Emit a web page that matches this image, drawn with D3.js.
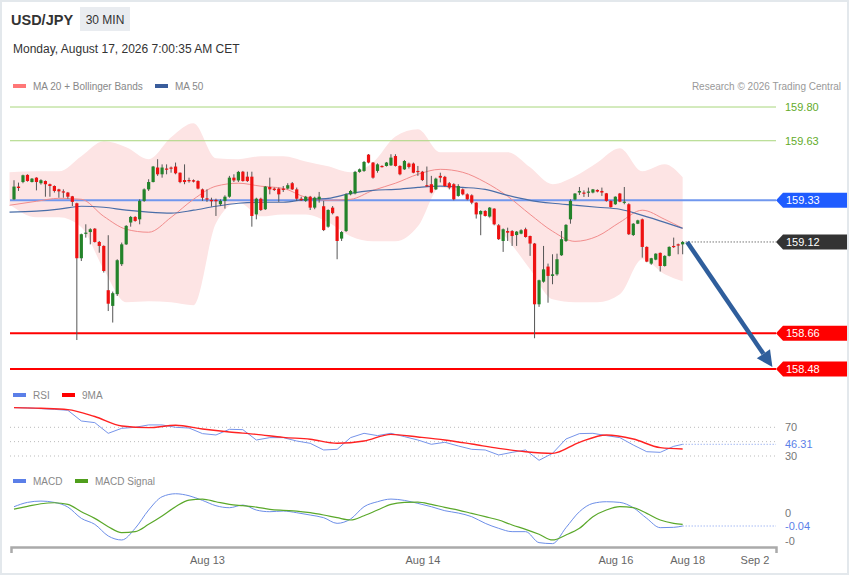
<!DOCTYPE html>
<html>
<head>
<meta charset="utf-8">
<script src="https://cdn.jsdelivr.net/npm/d3@7"></script>
<style>
  body { margin: 0; background: #fff; font-family: "Liberation Sans", Arial, sans-serif; }
</style>
</head>
<body>
<div id="chart"></div>
<script>
// candles, 30 min USD/JPY
const opens = [159.335,159.399,159.422,159.458,159.422,159.444,159.416,159.427,159.411,159.402,
  159.385,159.375,159.369,159.350,159.315,159.038,159.164,159.170,159.187,159.120,
  159.100,158.877,158.798,158.857,159.008,159.108,159.218,159.246,159.234,159.327,
  159.385,159.422,159.495,159.461,159.490,159.495,159.500,159.469,159.432,159.432,
  159.431,159.427,159.385,159.340,159.332,159.332,159.310,159.327,159.348,159.444,
  159.430,159.474,159.449,159.449,159.259,159.338,159.285,159.397,159.389,159.389,
  159.389,159.389,159.416,159.385,159.338,159.327,159.348,159.293,159.335,159.300,
  159.197,159.293,159.248,159.137,159.175,159.360,159.365,159.473,159.478,159.560,
  159.520,159.478,159.503,159.503,159.506,159.553,159.503,159.486,159.515,159.515,
  159.478,159.474,159.406,159.411,159.385,159.453,159.448,159.416,159.411,159.352,
  159.385,159.360,159.355,159.318,159.259,159.276,159.248,159.288,159.204,159.125,
  159.175,159.175,159.155,159.162,159.184,159.150,159.112,158.806,158.920,158.996,
  158.949,158.957,159.053,159.125,159.234,159.334,159.369,159.369,159.369,159.369,
  159.382,159.377,159.365,159.327,159.310,159.364,159.318,159.310,159.155,159.212,
  159.234,159.095,159.011,159.031,159.065,158.999,159.050,159.100,159.108,159.108];
const highs = [159.431,159.419,159.459,159.461,159.442,159.446,159.436,159.430,159.414,159.405,
  159.388,159.385,159.372,159.352,159.318,159.162,159.209,159.189,159.190,159.125,
  159.103,159.154,158.870,159.033,159.117,159.205,159.251,159.250,159.335,159.390,
  159.436,159.503,159.537,159.511,159.511,159.500,159.520,159.470,159.511,159.444,
  159.435,159.431,159.389,159.385,159.343,159.338,159.335,159.355,159.453,159.461,
  159.478,159.478,159.474,159.474,159.343,159.343,159.402,159.444,159.394,159.394,
  159.402,159.416,159.422,159.394,159.348,159.352,159.352,159.348,159.372,159.327,
  159.285,159.301,159.251,159.175,159.365,159.382,159.478,159.490,159.528,159.563,
  159.523,159.516,159.506,159.523,159.562,159.562,159.506,159.533,159.520,159.520,
  159.503,159.478,159.500,159.453,159.444,159.469,159.453,159.422,159.416,159.411,
  159.390,159.365,159.360,159.320,159.280,159.280,159.296,159.290,159.210,159.188,
  159.192,159.180,159.175,159.184,159.192,159.152,159.115,158.930,159.100,159.011,
  159.058,159.061,159.175,159.210,159.335,159.366,159.397,159.380,159.394,159.387,
  159.385,159.394,159.367,159.330,159.350,159.367,159.397,159.315,159.215,159.232,
  159.238,159.098,159.040,159.063,159.067,159.053,159.098,159.142,159.112,159.125];
const lows = [159.332,159.377,159.416,159.424,159.420,159.380,159.409,159.348,159.348,159.369,
  159.343,159.343,159.338,159.301,158.626,159.024,159.142,159.108,159.117,159.066,
  158.966,158.772,158.714,158.848,158.999,159.105,159.197,159.222,159.209,159.322,
  159.377,159.420,159.453,159.444,159.461,159.469,159.461,159.416,159.411,159.419,
  159.420,159.385,159.327,159.322,159.298,159.251,159.301,159.288,159.343,159.422,
  159.422,159.424,159.422,159.197,159.234,159.276,159.281,159.360,159.377,159.322,
  159.372,159.385,159.382,159.327,159.327,159.322,159.281,159.285,159.318,159.175,
  159.192,159.259,159.033,159.125,159.170,159.355,159.360,159.469,159.473,159.516,
  159.439,159.469,159.495,159.500,159.503,159.500,159.456,159.483,159.490,159.466,
  159.453,159.427,159.399,159.365,159.382,159.420,159.399,159.385,159.330,159.348,
  159.355,159.330,159.310,159.238,159.154,159.248,159.243,159.204,159.130,159.070,
  159.125,159.100,159.100,159.159,159.142,159.050,158.635,158.793,158.915,158.814,
  158.907,158.950,159.050,159.120,159.212,159.330,159.357,159.347,159.347,159.365,
  159.370,159.352,159.323,159.293,159.307,159.320,159.310,159.155,159.150,159.210,
  159.041,159.018,159.005,159.028,158.971,158.996,159.047,159.090,159.058,159.058];
const closes = [159.399,159.392,159.456,159.427,159.439,159.422,159.431,159.411,159.402,159.377,
  159.375,159.369,159.348,159.322,159.038,159.159,159.167,159.184,159.120,159.100,
  158.974,158.809,158.862,159.028,159.108,159.201,159.246,159.226,159.327,159.385,
  159.422,159.500,159.461,159.495,159.486,159.490,159.466,159.422,159.422,159.426,
  159.424,159.389,159.343,159.335,159.325,159.325,159.327,159.348,159.444,159.430,
  159.473,159.427,159.427,159.251,159.338,159.281,159.399,159.385,159.382,159.360,
  159.382,159.406,159.385,159.338,159.330,159.348,159.293,159.343,159.348,159.180,
  159.281,159.265,159.125,159.170,159.360,159.377,159.473,159.486,159.523,159.520,
  159.444,159.511,159.500,159.520,159.545,159.503,159.461,159.528,159.498,159.469,
  159.473,159.432,159.402,159.369,159.439,159.444,159.402,159.394,159.335,159.402,
  159.360,159.335,159.318,159.259,159.276,159.251,159.293,159.209,159.134,159.184,
  159.167,159.150,159.172,159.179,159.145,159.112,158.806,158.927,158.982,158.949,
  158.957,159.033,159.134,159.206,159.327,159.364,159.377,159.365,159.374,159.385,
  159.374,159.369,159.327,159.296,159.348,159.323,159.323,159.159,159.212,159.229,
  159.095,159.021,159.038,159.061,158.999,159.050,159.095,159.095,159.103,159.120];

// moving averages and Bollinger bands, read at these candle positions
const bandIdx = [-1,5,10,15,20,25,30,35,40,45,50,55,60,65,70,75,80,85,90,95,100,105,110,115,120,125,130,135,140,145,149];
const bbUpper = [159.471,159.476,159.476,159.552,159.627,159.597,159.537,159.647,159.718,159.542,159.537,159.552,159.552,159.526,159.501,159.471,159.521,159.652,159.688,159.572,159.572,159.572,159.572,159.496,159.411,159.451,159.521,159.592,159.476,159.511,159.446];
const bbLower = [159.310,159.244,159.244,159.194,158.982,158.816,158.821,158.816,158.801,159.214,159.320,159.249,159.259,159.259,159.219,159.149,159.123,159.123,159.199,159.395,159.360,159.259,159.134,158.982,158.831,158.816,158.816,158.856,159.033,158.957,158.922];
const ma20 = [159.305,159.325,159.340,159.335,159.249,159.184,159.169,159.244,159.335,159.401,159.416,159.401,159.390,159.345,159.330,159.335,159.380,159.416,159.461,159.486,159.471,159.421,159.350,159.259,159.174,159.123,159.149,159.219,159.280,159.234,159.189];
const ma50 = [159.270,159.275,159.285,159.300,159.295,159.280,159.270,159.265,159.280,159.300,159.315,159.320,159.320,159.335,159.340,159.365,159.380,159.385,159.395,159.401,159.395,159.385,159.355,159.330,159.315,159.305,159.295,159.285,159.254,159.219,159.189];

// RSI and MACD, read every third candle
const oscIdx = [0,3,6,9,12,15,18,21,24,27,30,33,36,39,42,45,48,51,54,57,60,63,66,69,72,75,78,81,84,87,90,93,96,99,102,105,108,111,114,117,120,123,126,129,132,135,138,141,144,147,149];
const rsi = [97.4,97,96,95,93.7,78.8,76.5,61.6,68.6,70,73.3,73.3,70,69,61.2,59.3,67.2,66.7,52.3,55.6,55.6,50.9,47.7,38.4,39.3,55.6,61.6,58.4,61.6,57,52.3,46.3,49.1,44,39.3,38.4,31.4,35.1,38.4,24,33.7,53.7,61.2,61.6,58.4,55.6,45.3,36,35.1,43.5,46.31];
const rsiMaIdx = [0,6,12,18,24,30,36,42,48,54,60,66,72,78,84,90,96,102,108,114,120,126,132,138,144,149];
const rsiMa = [97.4,96.5,94.7,85,71.9,69.5,72.8,67.7,63.5,60.2,56,53.3,47.7,50.9,60.2,56.5,52.3,46.7,40.7,36,33.7,49.1,59.3,53.7,41.6,39.8];
const macd = [0.018,0.031,0.035,0.031,0.017,-0.017,-0.035,-0.07,-0.082,-0.047,0.008,0.048,0.057,0.051,0.037,0.021,0.015,0.023,0.008,0.003,0.005,0,-0.007,-0.015,-0.032,-0.019,0.018,0.033,0.041,0.037,0.028,0.018,0.006,-0.001,-0.012,-0.032,-0.047,-0.057,-0.057,-0.09,-0.093,-0.045,0.003,0.028,0.033,0.031,0.015,-0.017,-0.045,-0.044,-0.04];
const macdSignal = [0.011,0.019,0.027,0.03,0.025,0.003,-0.017,-0.042,-0.06,-0.057,-0.035,-0.01,0.018,0.038,0.041,0.033,0.025,0.021,0.017,0.01,0.007,0.005,0,-0.007,-0.015,-0.022,-0.009,0.008,0.025,0.031,0.032,0.025,0.016,0.008,-0.002,-0.012,-0.022,-0.037,-0.05,-0.065,-0.082,-0.067,-0.047,-0.012,0.008,0.018,0.015,-0.002,-0.022,-0.032,-0.035];

// levels and labels
const resistances = [159.80, 159.63];
const pivot = 159.33;
const lastPrice = 159.12;
const supports = [158.66, 158.48];
const arrowFrom = [150, 159.12];
const arrowTo = [169, 158.49];
const rsiTicks = [70, 30];
const rsiGrid = [70, 50, 30];
const rsiLast = 46.31;
const macdTicks = [0, -0.084];
const macdTickLabels = ["0", "-0"];
const macdLast = -0.04;
const tickIdx = [43, 91, 134, 150, 165];
const tickLabels = ["Aug 13", "Aug 14", "Aug 16", "Aug 18", "Sep 2"];

const W = 850, H = 576;
const font = '"Liberation Sans", Arial, sans-serif';

const svg = d3.select("#chart").append("svg")
  .attr("width", W).attr("height", H)
  .style("font-family", font);

svg.append("rect")
  .attr("x", 1).attr("y", 1).attr("width", W - 3).attr("height", H - 3)
  .attr("fill", "#fff").attr("stroke", "#e3e8ec").attr("stroke-width", 2);

const x = d3.scaleLinear().domain([-0.67, 169.8]).range([11, 776]);
const y = d3.scaleLinear().domain([158.48, 159.80]).range([369, 107]);
const yRsi = d3.scaleLinear().domain([30, 70]).range([456, 427.3]);
const yMacd = d3.scaleLinear().domain([-0.04, 0]).range([526, 512.7]);
const lineLeft = 10, lineRight = 776;

// header
svg.append("text").attr("x", 11).attr("y", 25).text("USD/JPY")
  .attr("font-size", 14.5).attr("font-weight", 700).attr("fill", "#333");
svg.append("rect").attr("x", 80).attr("y", 7).attr("width", 50).attr("height", 24)
  .attr("fill", "#e9ecf0");
svg.append("text").attr("x", 105).attr("y", 23.5).attr("text-anchor", "middle")
  .text("30 MIN").attr("font-size", 12).attr("fill", "#333");
svg.append("text").attr("x", 13).attr("y", 53).text("Monday, August 17, 2026 7:00:35 AM CET")
  .attr("font-size", 12).attr("fill", "#333");

// legend helper
const legend = (items, ly) => {
  items.forEach(it => {
    svg.append("rect").attr("x", it.x).attr("y", ly - 6).attr("width", 13).attr("height", 4)
      .attr("fill", it.color);
    svg.append("text").attr("x", it.x + 20).attr("y", ly).text(it.label)
      .attr("font-size", 10).attr("fill", "#888");
  });
};
legend([{ x: 13, color: "#f77", label: "MA 20 + Bollinger Bands" },
        { x: 155, color: "#3a5d9c", label: "MA 50" }], 90);
svg.append("text").attr("x", 841).attr("y", 90).attr("text-anchor", "end")
  .text("Research \u00a9 2026 Trading Central").attr("font-size", 10).attr("fill", "#999");

// bollinger band
const bandArea = d3.area()
  .x((d, i) => x(bandIdx[i]))
  .y0((d, i) => y(bbLower[i]))
  .y1((d, i) => y(bbUpper[i]))
  .curve(d3.curveMonotoneX);
svg.append("path").datum(bandIdx).attr("d", bandArea).attr("fill", "#fde4e4");

// level lines
resistances.forEach(v => {
  svg.append("line").attr("x1", lineLeft).attr("x2", lineRight)
    .attr("y1", y(v)).attr("y2", y(v)).attr("stroke", "#a8d67c").attr("stroke-width", 1);
  svg.append("text").attr("x", 785).attr("y", y(v) + 4).text(v.toFixed(2))
    .attr("font-size", 11).attr("fill", "#63ab2a");
});
svg.append("line").attr("x1", lineLeft).attr("x2", lineRight)
  .attr("y1", y(pivot)).attr("y2", y(pivot)).attr("stroke", "#7097ee").attr("stroke-width", 2);
supports.forEach(v => {
  svg.append("line").attr("x1", lineLeft).attr("x2", lineRight)
    .attr("y1", y(v)).attr("y2", y(v)).attr("stroke", "#f00").attr("stroke-width", 2);
});

// moving averages
const maLine = vals => d3.line()
  .x((d, i) => x(bandIdx[i]))
  .y((d, i) => y(vals[i]))
  .curve(d3.curveMonotoneX)(bandIdx);
svg.append("path").attr("d", maLine(ma20)).attr("fill", "none")
  .attr("stroke", "#f28c8c").attr("stroke-width", 1);
svg.append("path").attr("d", maLine(ma50)).attr("fill", "none")
  .attr("stroke", "#4a6ea8").attr("stroke-width", 1.2);

// candles
const cg = svg.append("g");
cg.selectAll("line").data(closes).join("line")
  .attr("x1", (d, i) => x(i)).attr("x2", (d, i) => x(i))
  .attr("y1", (d, i) => y(highs[i])).attr("y2", (d, i) => y(lows[i]))
  .attr("stroke", "#555").attr("stroke-width", 1);
cg.selectAll("rect").data(closes).join("rect")
  .attr("x", (d, i) => x(i) - 1.6)
  .attr("width", 3.2)
  .attr("y", (d, i) => y(Math.max(opens[i], d)))
  .attr("height", (d, i) => Math.max(1.2, Math.abs(y(opens[i]) - y(d))))
  .attr("fill", (d, i) => d >= opens[i] ? "#23832a" : "#ee1111");

// last price dotted line
svg.append("line").attr("x1", x(149) + 3).attr("x2", lineRight)
  .attr("y1", y(lastPrice)).attr("y2", y(lastPrice))
  .attr("stroke", "#333").attr("stroke-width", 1).attr("stroke-dasharray", "1,2");

// projection arrow
const ax0 = x(arrowFrom[0]), ay0 = y(arrowFrom[1]);
const ax1 = x(arrowTo[0]), ay1 = y(arrowTo[1]);
const ang = Math.atan2(ay1 - ay0, ax1 - ax0);
const headLen = 16, headW = 8;
const bx = ax1 - headLen * Math.cos(ang), by = ay1 - headLen * Math.sin(ang);
svg.append("line").attr("x1", ax0).attr("y1", ay0).attr("x2", bx).attr("y2", by)
  .attr("stroke", "#2f5e9c").attr("stroke-width", 4.5);
svg.append("polygon").attr("fill", "#2f5e9c").attr("points", [
  [ax1, ay1],
  [bx + headW * Math.sin(ang), by - headW * Math.cos(ang)],
  [bx - headW * Math.sin(ang), by + headW * Math.cos(ang)]
].map(p => p.join(",")).join(" "));

// price tags on the right
const tag = (v, color) => {
  const cy = y(v);
  svg.append("polygon").attr("fill", color).attr("points",
    [[776, cy], [783, cy - 7.5], [847, cy - 7.5], [847, cy + 7.5], [783, cy + 7.5]]
      .map(p => p.join(",")).join(" "));
  svg.append("text").attr("x", 786).attr("y", cy + 4).text(v.toFixed(2))
    .attr("font-size", 11).attr("fill", "#fff");
};
tag(pivot, "#1f5cff");
tag(lastPrice, "#333");
supports.forEach(v => tag(v, "#f00"));

// RSI panel
legend([{ x: 13, color: "#5b7fe8", label: "RSI" }, { x: 62, color: "#f00", label: "9MA" }], 399);
rsiGrid.forEach(v => {
  svg.append("line").attr("x1", lineLeft).attr("x2", lineRight)
    .attr("y1", yRsi(v)).attr("y2", yRsi(v))
    .attr("stroke", "#bbb").attr("stroke-width", 1).attr("stroke-dasharray", "1,3");
});
rsiTicks.forEach(v => {
  svg.append("text").attr("x", 785).attr("y", yRsi(v) + 4).text(v)
    .attr("font-size", 11).attr("fill", "#777");
});
svg.append("line").attr("x1", x(149)).attr("x2", lineRight)
  .attr("y1", yRsi(rsiLast)).attr("y2", yRsi(rsiLast))
  .attr("stroke", "#7a98ee").attr("stroke-width", 1).attr("stroke-dasharray", "1,2");
svg.append("text").attr("x", 785).attr("y", yRsi(rsiLast) + 3.5).text(rsiLast.toFixed(2))
  .attr("font-size", 11).attr("fill", "#5b7fe8");

svg.append("path").attr("fill", "none").attr("stroke", "#7694ea").attr("stroke-width", 1)
  .attr("d", d3.line().x((d, i) => x(oscIdx[i])).y(d => yRsi(d))(rsi));
svg.append("path").attr("fill", "none").attr("stroke", "#f22").attr("stroke-width", 1.4)
  .attr("d", d3.line().x((d, i) => x(rsiMaIdx[i])).y(d => yRsi(d)).curve(d3.curveMonotoneX)(rsiMa));

// MACD panel
legend([{ x: 13, color: "#5b7fe8", label: "MACD" }, { x: 75, color: "#4f9e1c", label: "MACD Signal" }], 485);
macdTicks.forEach((v, i) => {
  svg.append("text").attr("x", 785).attr("y", yMacd(v) + 4).text(macdTickLabels[i])
    .attr("font-size", 11).attr("fill", "#777");
});
svg.append("line").attr("x1", x(149)).attr("x2", lineRight)
  .attr("y1", yMacd(macdLast)).attr("y2", yMacd(macdLast))
  .attr("stroke", "#7a98ee").attr("stroke-width", 1).attr("stroke-dasharray", "1,2");
svg.append("text").attr("x", 785).attr("y", yMacd(macdLast) + 4).text(macdLast.toFixed(2))
  .attr("font-size", 11).attr("fill", "#5b7fe8");
svg.append("path").attr("fill", "none").attr("stroke", "#6c8ee8").attr("stroke-width", 1)
  .attr("d", d3.line().x((d, i) => x(oscIdx[i])).y(d => yMacd(d)).curve(d3.curveMonotoneX)(macd));
svg.append("path").attr("fill", "none").attr("stroke", "#5aa82a").attr("stroke-width", 1.2)
  .attr("d", d3.line().x((d, i) => x(oscIdx[i])).y(d => yMacd(d)).curve(d3.curveMonotoneX)(macdSignal));

// time axis
const xAxis = d3.axisBottom(x)
  .tickValues(tickIdx)
  .tickFormat((d, i) => tickLabels[i])
  .tickSizeInner(0)
  .tickSizeOuter(6)
  .tickPadding(9);
const ag = svg.append("g").attr("transform", "translate(0,547)").call(xAxis);
ag.select(".domain").attr("stroke", "#aaa").attr("stroke-width", 2.5);
ag.selectAll("text").attr("font-size", 11).attr("fill", "#666").style("font-family", font);
</script>
</body>
</html>
